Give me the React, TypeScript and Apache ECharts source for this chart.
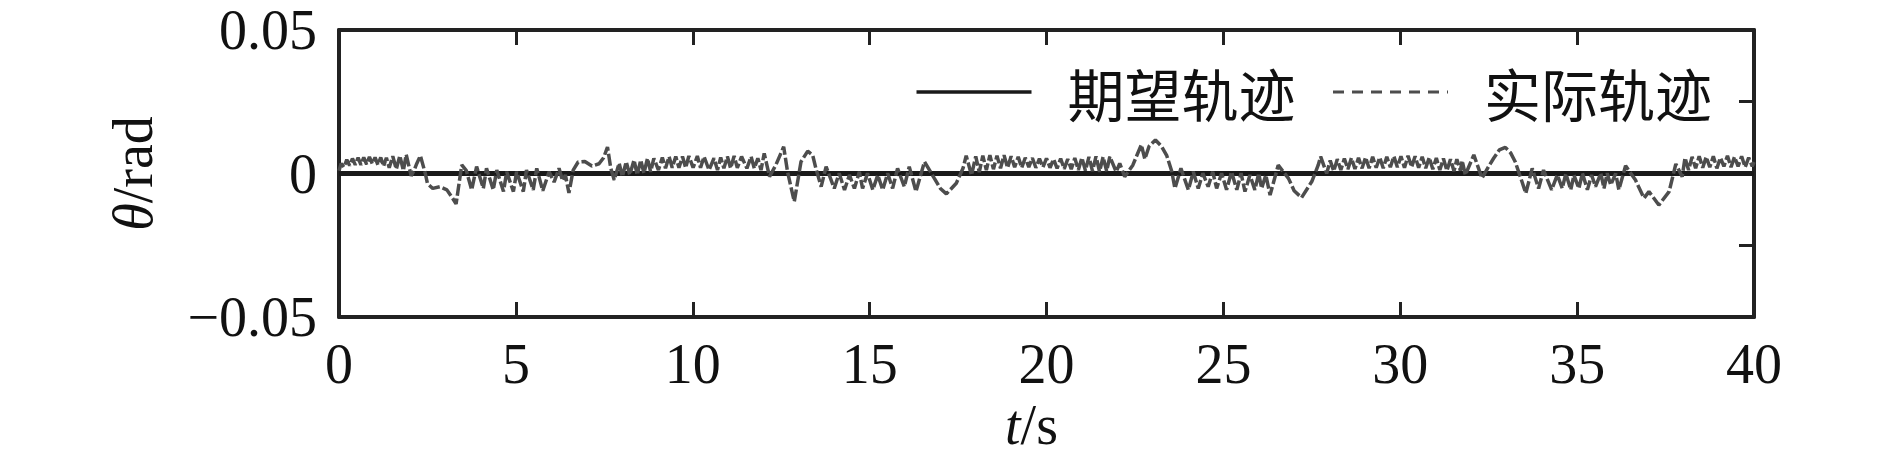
import React, { useEffect, useRef } from "react";
import * as echarts from "echarts";

// time axis ticks and range
const xTicks = [0, 5, 10, 15, 20, 25, 30, 35, 40];
const yLabelValues = [-0.05, 0, 0.05];

// desired trajectory (t [s], theta [rad])
const desiredTrajectory: [number, number][] = [
  [0, 0],
  [40, 0],
];

const actualTrajectory: [number, number][] = [
  [0.0, 0.001], [0.06, 0.0035], [0.14, 0.0022], [0.22, 0.0048], [0.3, 0.0028], [0.38, 0.0052],
  [0.46, 0.003], [0.54, 0.0055], [0.62, 0.003], [0.7, 0.0056], [0.78, 0.0032], [0.86, 0.0058],
  [0.94, 0.0034], [1.02, 0.0056], [1.1, 0.003], [1.18, 0.0056], [1.26, 0.0025], [1.34, 0.0055],
  [1.42, 0.002], [1.52, 0.006], [1.62, 0.0015], [1.72, 0.0062], [1.82, 0.001], [1.9, 0.0066],
  [2.04, -0.0008], [2.12, 0.001], [2.2, 0.0035], [2.3, 0.0062], [2.44, 0.0],
  [2.5, -0.0035], [2.65, -0.0052], [2.85, -0.0046], [3.05, -0.0057], [3.22, -0.0088], [3.31, -0.0106],
  [3.47, 0.003], [3.6, 0.001], [3.75, -0.0057], [3.89, 0.0024], [4.08, -0.0052], [4.17, 0.0018],
  [4.36, -0.0057], [4.46, 0.0012], [4.65, -0.0063], [4.74, 0.0006], [4.93, -0.0063], [5.02, 0.0006],
  [5.21, -0.0063], [5.3, 0.0012], [5.49, -0.0057], [5.59, 0.0018], [5.76, -0.006], [5.94, 0.0006],
  [6.08, -0.003], [6.22, 0.0018], [6.32, -0.0025], [6.4, -0.0005], [6.5, -0.0068],
  [6.62, 0.0012], [6.76, 0.004], [6.95, 0.0042], [7.15, 0.0026], [7.35, 0.0034], [7.48, 0.0055],
  [7.59, 0.0092], [7.68, 0.002],
  [7.78, -0.0023], [7.92, 0.0036], [8.01, -0.0011], [8.12, 0.0041], [8.22, -0.0005], [8.34, 0.0047],
  [8.43, -0.0005], [8.53, 0.0047], [8.62, 0.0001], [8.72, 0.0053], [8.81, 0.0006], [8.9, 0.0053],
  [9.03, 0.0012], [9.14, 0.0056], [9.23, 0.0018], [9.33, 0.0059], [9.42, 0.002], [9.52, 0.0059],
  [9.61, 0.002], [9.71, 0.0059], [9.8, 0.002], [9.89, 0.0061], [10.01, 0.002], [10.13, 0.0061],
  [10.22, 0.002], [10.32, 0.0059], [10.46, 0.0012], [10.6, 0.0053], [10.7, 0.0012], [10.79, 0.0056],
  [10.88, 0.0018], [10.98, 0.0059], [11.07, 0.0018], [11.17, 0.0061], [11.26, 0.002], [11.38, 0.0059],
  [11.53, 0.0018], [11.65, 0.0059], [11.74, 0.0018], [11.84, 0.0053], [11.93, 0.0012], [12.02, 0.007],
  [12.17, -0.0011], [12.35, 0.003], [12.57, 0.0093], [12.68, 0.0006], [12.87, -0.0098], [13.06, 0.0041],
  [13.25, 0.0078], [13.39, 0.0064], [13.48, 0.0018], [13.63, -0.0046],
  [13.77, 0.0024], [14.0, -0.0052], [14.14, 0.0001], [14.29, -0.0057], [14.43, -0.0005], [14.57, -0.0052],
  [14.71, 0.0006], [14.8, -0.0052], [14.94, 0.0001], [15.09, -0.0057], [15.23, -0.0005], [15.37, -0.0057],
  [15.51, 0.0001], [15.65, -0.0052], [15.79, 0.0018], [15.98, -0.0046], [16.12, 0.0024], [16.31, -0.0063],
  [16.55, 0.0041], [16.83, -0.0017], [17.0, -0.0052], [17.17, -0.0071], [17.45, -0.0034], [17.64, 0.0018],
  [17.73, 0.0062], [17.88, -0.0006],
  [18.0, 0.006], [18.1, 0.0005], [18.2, 0.0062], [18.3, 0.0012], [18.4, 0.0064], [18.5, 0.0015],
  [18.6, 0.0062], [18.7, 0.0018], [18.8, 0.0064], [18.9, 0.002], [19.0, 0.006], [19.1, 0.0022],
  [19.2, 0.0058], [19.3, 0.002], [19.4, 0.0055], [19.5, 0.0022], [19.6, 0.0054], [19.7, 0.002],
  [19.8, 0.0052], [19.9, 0.0022], [20.0, 0.0053], [20.1, 0.002], [20.2, 0.005], [20.3, 0.0018],
  [20.4, 0.0052], [20.5, 0.0016], [20.6, 0.005], [20.7, 0.0015], [20.8, 0.0054], [20.9, 0.0012],
  [21.0, 0.0055], [21.1, 0.001], [21.2, 0.0058], [21.3, 0.0008], [21.4, 0.006], [21.5, 0.0006],
  [21.6, 0.0058], [21.7, 0.0008], [21.79, 0.0059], [21.97, 0.0006], [22.07, 0.0035], [22.21, -0.0011],
  [22.44, 0.0029], [22.68, 0.01], [22.78, 0.005], [22.9, 0.0095], [23.08, 0.0117], [23.25, 0.0095],
  [23.4, 0.0062], [23.54, 0.0008], [23.63, -0.0052],
  [23.8, 0.0018], [24.01, -0.0057], [24.15, 0.0006], [24.29, -0.0052], [24.42, 0.0001], [24.57, -0.0046],
  [24.7, 0.0006], [24.81, -0.0052], [24.95, 0.0001], [25.09, -0.0057], [25.23, 0.0006], [25.38, -0.0057],
  [25.5, 0.0001], [25.61, -0.0063], [25.75, -0.0005], [25.89, -0.0057], [26.0, 0.0001], [26.08, -0.0052],
  [26.2, -0.0005], [26.32, -0.0075], [26.55, 0.0029], [26.84, -0.0017], [27.0, -0.006], [27.21, -0.0084],
  [27.5, -0.0028], [27.68, 0.0029], [27.75, 0.0059], [27.92, 0.0],
  [28.02, 0.0045], [28.12, 0.0008], [28.22, 0.005], [28.32, 0.0012], [28.42, 0.0052], [28.52, 0.0015],
  [28.62, 0.0054], [28.72, 0.0016], [28.82, 0.0055], [28.92, 0.0018], [29.02, 0.0056], [29.12, 0.0018],
  [29.22, 0.0058], [29.32, 0.002], [29.42, 0.0056], [29.52, 0.0018], [29.62, 0.0058], [29.72, 0.0022],
  [29.82, 0.006], [29.92, 0.0022], [30.02, 0.006], [30.12, 0.002], [30.22, 0.0062], [30.32, 0.0022],
  [30.42, 0.006], [30.52, 0.002], [30.62, 0.0058], [30.72, 0.0018], [30.82, 0.0056], [30.92, 0.0015],
  [31.02, 0.0054], [31.12, 0.0012], [31.22, 0.0052], [31.32, 0.001], [31.42, 0.005], [31.52, 0.0008],
  [31.6, 0.005], [31.7, 0.001], [31.75, 0.0045], [31.84, -0.0005], [32.08, 0.0065], [32.31, -0.0016],
  [32.5, 0.0025], [32.64, 0.0053], [32.8, 0.0082], [32.97, 0.0091], [33.12, 0.0072], [33.25, 0.0041],
  [33.44, -0.0028], [33.55, -0.0069],
  [33.73, 0.0018], [33.91, -0.0052], [34.05, 0.0012], [34.28, -0.0057], [34.44, -0.0005], [34.58, -0.0052],
  [34.68, 0.0], [34.82, -0.0057], [34.91, -0.0005], [35.05, -0.0052], [35.15, 0.0001], [35.29, -0.0057],
  [35.41, -0.0005], [35.52, -0.0046], [35.67, 0.0001], [35.76, -0.0052], [35.85, 0.0001], [35.95, -0.004],
  [36.09, 0.0], [36.18, -0.0057], [36.37, 0.0027], [36.65, -0.0023], [36.89, -0.0086], [37.03, -0.0063],
  [37.31, -0.011], [37.6, -0.0063], [37.79, 0.0033], [37.97, -0.0011],
  [38.05, 0.0055], [38.15, 0.0012], [38.25, 0.0058], [38.35, 0.0018], [38.45, 0.006], [38.55, 0.002],
  [38.65, 0.0058], [38.75, 0.0022], [38.85, 0.006], [38.95, 0.0018], [39.05, 0.0055], [39.15, 0.0025],
  [39.25, 0.0062], [39.35, 0.0022], [39.45, 0.0058], [39.55, 0.0025], [39.65, 0.006], [39.75, 0.0022],
  [39.85, 0.0055], [39.95, 0.0025], [40.0, 0.004],
];

const legendNames = ["期望轨迹", "实际轨迹"];

const SERIF = "'Liberation Serif', 'Times New Roman', serif";
const CJK = "'Noto Sans CJK SC', sans-serif";
const AXIS_COLOR = "#222";
const ACTUAL_COLOR = "#4d4d4d";
const DESIRED_COLOR = "#1a1a1a";

export default function App() {
  const ref = useRef<HTMLDivElement>(null);

  useEffect(() => {
    document.body.style.margin = "0";
    if (!ref.current) return;
    const chart = echarts.init(ref.current, undefined, { renderer: "svg" });

    const axisLine = { show: true, onZero: false, lineStyle: { color: AXIS_COLOR, width: 4 } };
    const axisTick = { show: true, inside: true, length: 15, lineStyle: { color: AXIS_COLOR, width: 3 } };

    const fmtY = (v: number) => {
      if (Math.abs(v) < 1e-9) return "0";
      const s = v.toFixed(2);
      return s.replace("-", "\u2212");
    };

    chart.setOption({
      animation: false,
      backgroundColor: "#fff",
      grid: { left: 339, right: 136, top: 30, bottom: 151, containLabel: false },
      legend: {
        show: true,
        icon: "inherit",
        data: [
          { name: legendNames[0], lineStyle: { type: "solid", width: 3.5, color: DESIRED_COLOR } },
          { name: legendNames[1], lineStyle: { type: [11, 8], width: 3, color: ACTUAL_COLOR } },
        ],
        itemStyle: { opacity: 0 },
        right: 178,
        top: 62,
        padding: 0,
        itemWidth: 115,
        itemHeight: 20,
        itemGap: 36,
        selectedMode: false,
        textStyle: {
          fontFamily: CJK,
          fontSize: 57,
          color: "#111",
          lineHeight: 60,
          padding: [0, 0, 0, 31],
        },
      },
      xAxis: [
        {
          type: "value",
          position: "bottom",
          min: 0,
          max: 40,
          interval: 5,
          axisLine,
          axisTick,
          splitLine: { show: false },
          axisLabel: {
            show: true,
            margin: 19,
            fontFamily: SERIF,
            fontSize: 56,
            color: "#111",
            formatter: (v: number) => (xTicks.includes(v) ? String(v) : ""),
          },
          name: "{it|t}/s",
          nameLocation: "middle",
          nameGap: 76,
          nameTextStyle: {
            fontFamily: SERIF,
            fontSize: 56,
            color: "#111",
            padding: [0, 30, 0, 0],
            rich: {
              it: { fontFamily: SERIF, fontSize: 56, fontStyle: "italic", color: "#111" },
            },
          },
        },
        {
          type: "value",
          position: "top",
          min: 0,
          max: 40,
          interval: 5,
          axisLine,
          axisTick,
          splitLine: { show: false },
          axisLabel: { show: false },
        },
      ],
      yAxis: [
        {
          type: "value",
          position: "left",
          min: -0.05,
          max: 0.05,
          interval: 0.05,
          axisLine,
          axisTick,
          splitLine: { show: false },
          axisLabel: {
            show: true,
            margin: 22,
            fontFamily: SERIF,
            fontSize: 56,
            color: "#111",
            formatter: (v: number) =>
              yLabelValues.some((y) => Math.abs(y - v) < 1e-9) ? fmtY(v) : "",
          },
          name: "{it|θ}/rad",
          nameLocation: "middle",
          nameRotate: 90,
          nameGap: 178,
          nameTextStyle: {
            fontFamily: SERIF,
            fontSize: 56,
            color: "#111",
            rich: {
              it: { fontFamily: SERIF, fontSize: 56, fontStyle: "italic", color: "#111" },
            },
          },
        },
        {
          type: "value",
          position: "right",
          min: -0.05,
          max: 0.05,
          interval: 0.025,
          axisLine,
          axisTick,
          splitLine: { show: false },
          axisLabel: { show: false },
        },
      ],
      series: [
        {
          name: legendNames[0],
          type: "line",
          xAxisIndex: 0,
          yAxisIndex: 0,
          data: desiredTrajectory,
          symbol: "none",
          lineStyle: { color: DESIRED_COLOR, width: 5, type: "solid" },
          itemStyle: { color: DESIRED_COLOR },
          z: 2,
        },
        {
          name: legendNames[1],
          type: "line",
          xAxisIndex: 0,
          yAxisIndex: 0,
          data: actualTrajectory,
          symbol: "none",
          lineStyle: { color: ACTUAL_COLOR, width: 3.5, type: [12, 3] },
          itemStyle: { color: ACTUAL_COLOR },
          z: 3,
        },
      ],
    });

    return () => chart.dispose();
  }, []);

  return <div ref={ref} style={{ width: 1890, height: 468 }} />;
}
